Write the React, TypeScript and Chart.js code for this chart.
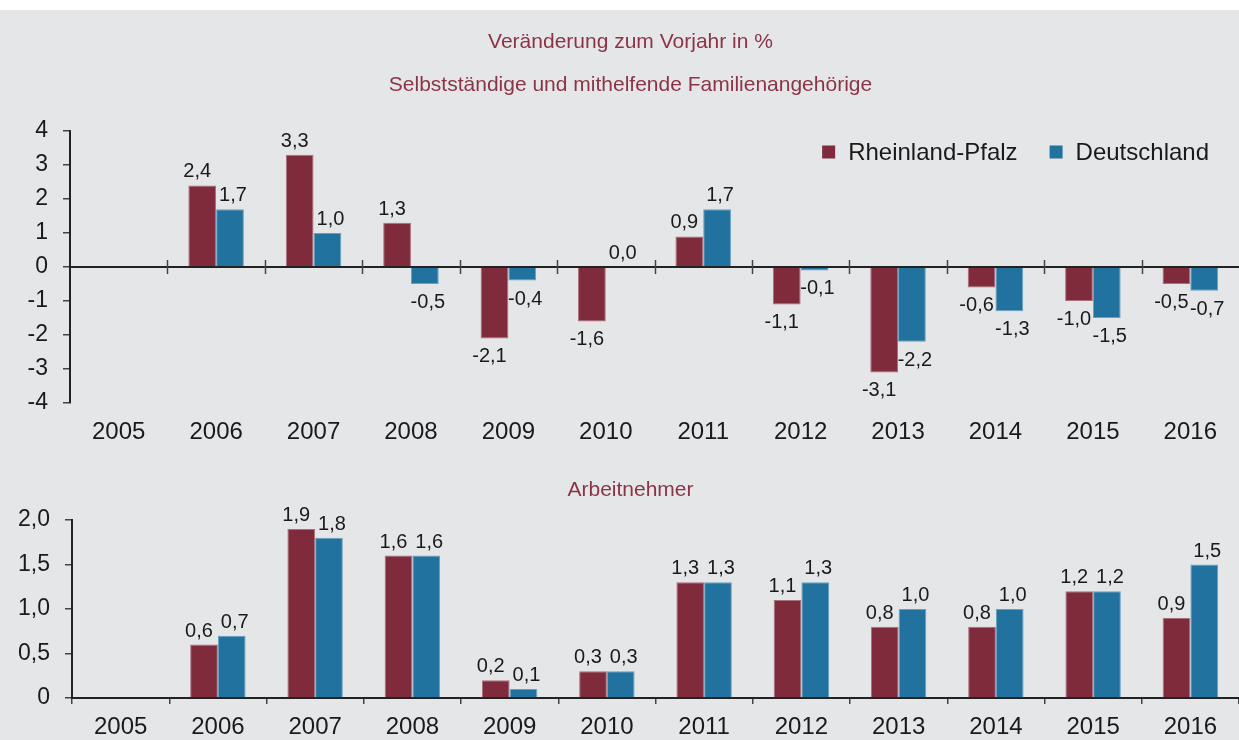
import React, { useEffect, useRef } from 'react';
import { Chart, registerables } from 'chart.js';

Chart.register(...registerables);

// ---------- data ----------
const years = ['2005', '2006', '2007', '2008', '2009', '2010', '2011', '2012', '2013', '2014', '2015', '2016'];
const seriesNames = ['Rheinland-Pfalz', 'Deutschland'];

const selbstRP = [null, 2.4, 3.3, 1.3, -2.1, -1.6, 0.9, -1.1, -3.1, -0.6, -1.0, -0.5];
const selbstDE = [null, 1.7, 1.0, -0.5, -0.4, 0.0, 1.7, -0.1, -2.2, -1.3, -1.5, -0.7];

const arbRP = [null, 0.6, 1.9, 1.6, 0.2, 0.3, 1.3, 1.1, 0.8, 0.8, 1.2, 0.9];
const arbDE = [null, 0.7, 1.8, 1.6, 0.1, 0.3, 1.3, 1.3, 1.0, 1.0, 1.2, 1.5];

const topTitle = ['Veränderung zum Vorjahr in %', 'Selbstständige und mithelfende Familienangehörige'];
const bottomTitle = 'Arbeitnehmer';

const topTickLabels = ['-4', '-3', '-2', '-1', '0', '1', '2', '3', '4'];
const bottomTickLabels = ['0', '0,5', '1,0', '1,5', '2,0'];

// ---------- styles ----------
const FONT = '"Liberation Sans", Arial, Helvetica, sans-serif';
const RP_COLOR = '#7f2b3c';
const RP_EDGE = '#a8707c';
const DE_COLOR = '#21729e';
const DE_EDGE = '#6a9fc0';
const TITLE_COLOR = '#8c3447';
const TEXT = '#1a1a1a';
const BG = '#e5e6e8';

Chart.defaults.font.family = FONT;
Chart.defaults.color = TEXT;

const fmt = (v: number) => v.toFixed(1).replace('.', ',');

const zeroLinePlugin = {
  id: 'zeroLine',
  afterDatasetsDraw(chart: any) {
    const { ctx, chartArea } = chart;
    const x = chart.scales.x;
    const y = chart.scales.y;
    const y0 = y.getPixelForValue(0);
    ctx.save();
    ctx.strokeStyle = '#222';
    ctx.lineWidth = 2;
    ctx.beginPath();
    ctx.moveTo(chartArea.left, y0);
    ctx.lineTo(chartArea.right, y0);
    ctx.stroke();
    const n = chart.data.labels.length;
    const w = (x.right - x.left) / n;
    ctx.strokeStyle = '#444';
    ctx.lineWidth = 1.5;
    for (let i = 1; i < n; i++) {
      const bx = Math.round(x.left + i * w) + 0.5;
      ctx.beginPath();
      ctx.moveTo(bx, y0 - 7);
      ctx.lineTo(bx, y0 + 7);
      ctx.stroke();
    }
    ctx.restore();
  },
};

const valueLabelPlugin = {
  id: 'valueLabels',
  afterDatasetsDraw(chart: any, _args: any, opts: any) {
    const { ctx } = chart;
    ctx.save();
    ctx.font = `${opts.size || 20}px ${FONT}`;
    ctx.fillStyle = TEXT;
    ctx.textAlign = 'center';
    ctx.textBaseline = 'alphabetic';
    chart.data.datasets.forEach((ds: any, di: number) => {
      const meta = chart.getDatasetMeta(di);
      const dx = (opts.offsets && opts.offsets[di]) || 0;
      meta.data.forEach((el: any, i: number) => {
        const v = ds.data[i];
        if (v === null || v === undefined) return;
        const tx = el.x + dx;
        if (v >= 0) {
          ctx.fillText(fmt(v), tx, el.y - 8);
        } else {
          ctx.fillText(fmt(v), tx, el.y + 24);
        }
      });
    });
    ctx.restore();
  },
};

const legendPlugin = {
  id: 'cornerLegend',
  afterDraw(chart: any, _args: any, opts: any) {
    const { ctx, chartArea } = chart;
    ctx.save();
    ctx.font = `24px ${FONT}`;
    ctx.textBaseline = 'middle';
    ctx.textAlign = 'left';
    const box = 13;
    const gapText = 13;
    const gapItems = 32;
    const items = chart.data.datasets.map((ds: any) => ({
      label: ds.label,
      color: ds.backgroundColor,
      w: ctx.measureText(ds.label).width,
    }));
    const total =
      items.reduce((s: number, it: any) => s + box + gapText + it.w, 0) + gapItems * (items.length - 1);
    let x = chartArea.right - (opts.rightInset || 30) - total;
    const cy = chartArea.top + (opts.topInset || 21);
    items.forEach((it: any) => {
      ctx.fillStyle = it.color;
      ctx.fillRect(x, cy - box / 2, box, box);
      x += box + gapText;
      ctx.fillStyle = TEXT;
      ctx.fillText(it.label, x, cy + 1);
      x += it.w + gapItems;
    });
    ctx.restore();
  },
};

function makeDatasets(rp: (number | null)[], de: (number | null)[]) {
  return [
    { label: seriesNames[0], data: rp, backgroundColor: RP_COLOR, borderColor: RP_EDGE, borderWidth: 1 },
    { label: seriesNames[1], data: de, backgroundColor: DE_COLOR, borderColor: DE_EDGE, borderWidth: 1 },
  ];
}

export default function App() {
  const topRef = useRef<HTMLCanvasElement | null>(null);
  const bottomRef = useRef<HTMLCanvasElement | null>(null);

  useEffect(() => {
    document.body.style.margin = '0';
    const top = new Chart(topRef.current as HTMLCanvasElement, {
      type: 'bar',
      data: { labels: years, datasets: makeDatasets(selbstRP, selbstDE) as any },
      options: {
        responsive: false,
        maintainAspectRatio: false,
        animation: false,
        layout: { padding: { left: 19, right: -3, top: 0, bottom: 0 } },
        datasets: { bar: { categoryPercentage: 0.57, barPercentage: 1 } },
        plugins: {
          legend: { display: false },
          tooltip: { enabled: false },
          title: {
            display: true,
            text: topTitle,
            color: TITLE_COLOR,
            font: { size: 21, weight: 'normal', lineHeight: '43px' } as any,
            padding: { top: 10.5, bottom: 24.5 },
          },
          cornerLegend: { rightInset: 30, topInset: 21 },
          valueLabels: { size: 20, offsets: [-5, 3] },
        } as any,
        scales: {
          x: {
            grid: { display: false, drawTicks: false },
            border: { display: false },
            ticks: { padding: 15, font: { size: 24 }, color: TEXT, maxRotation: 0, autoSkip: false },
            afterFit: (s: any) => {
              s.height = 57;
            },
          },
          y: {
            min: -4,
            max: 4,
            ticks: {
              stepSize: 1,
              callback: (_v: any, i: number) => topTickLabels[i],
              font: { size: 23 },
              padding: 15,
              color: TEXT,
            },
            grid: { drawOnChartArea: false, drawTicks: true, tickLength: 7, color: '#444', lineWidth: 1.5 },
            border: { display: true, color: '#222', width: 2 },
            afterFit: (s: any) => {
              s.width = 51;
            },
          },
        },
      },
      plugins: [zeroLinePlugin, valueLabelPlugin, legendPlugin],
    });

    const bottom = new Chart(bottomRef.current as HTMLCanvasElement, {
      type: 'bar',
      data: { labels: years, datasets: makeDatasets(arbRP, arbDE) as any },
      options: {
        responsive: false,
        maintainAspectRatio: false,
        animation: false,
        layout: { padding: { left: 19, right: -3, top: 0, bottom: 0 } },
        datasets: { bar: { categoryPercentage: 0.57, barPercentage: 1 } },
        plugins: {
          legend: { display: false },
          tooltip: { enabled: false },
          title: {
            display: true,
            text: bottomTitle,
            color: TITLE_COLOR,
            font: { size: 21, weight: 'normal', lineHeight: '25px' } as any,
            padding: { top: 17.5, bottom: 17.5 },
          },
          valueLabels: { size: 20, offsets: [-5, 3] },
        } as any,
        scales: {
          x: {
            grid: { display: true, drawOnChartArea: false, drawTicks: true, tickLength: 6, color: '#444', lineWidth: 1.5 },
            border: { display: true, color: '#222', width: 2 },
            ticks: { padding: 9, font: { size: 24 }, color: TEXT, maxRotation: 0, autoSkip: false },
            afterFit: (s: any) => {
              s.height = 42;
            },
          },
          y: {
            min: 0,
            max: 2,
            ticks: {
              stepSize: 0.5,
              callback: (_v: any, i: number) => bottomTickLabels[i],
              font: { size: 23 },
              padding: 15,
              color: TEXT,
            },
            grid: { drawOnChartArea: false, drawTicks: true, tickLength: 7, color: '#444', lineWidth: 1.5 },
            border: { display: true, color: '#222', width: 2 },
            afterFit: (s: any) => {
              s.width = 53;
            },
          },
        },
      },
      plugins: [valueLabelPlugin],
    });

    return () => {
      top.destroy();
      bottom.destroy();
    };
  }, []);

  return (
    <div style={{ position: 'relative', width: 1239, height: 740, background: '#ffffff', overflow: 'hidden' }}>
      <div style={{ position: 'absolute', left: 0, top: 10, width: 1239, height: 730, background: BG }} />
      <canvas
        ref={topRef}
        width={1239}
        height={450}
        style={{ position: 'absolute', left: 0, top: 10, width: 1239, height: 450 }}
      />
      <canvas
        ref={bottomRef}
        width={1239}
        height={280}
        style={{ position: 'absolute', left: 0, top: 460, width: 1239, height: 280 }}
      />
    </div>
  );
}
